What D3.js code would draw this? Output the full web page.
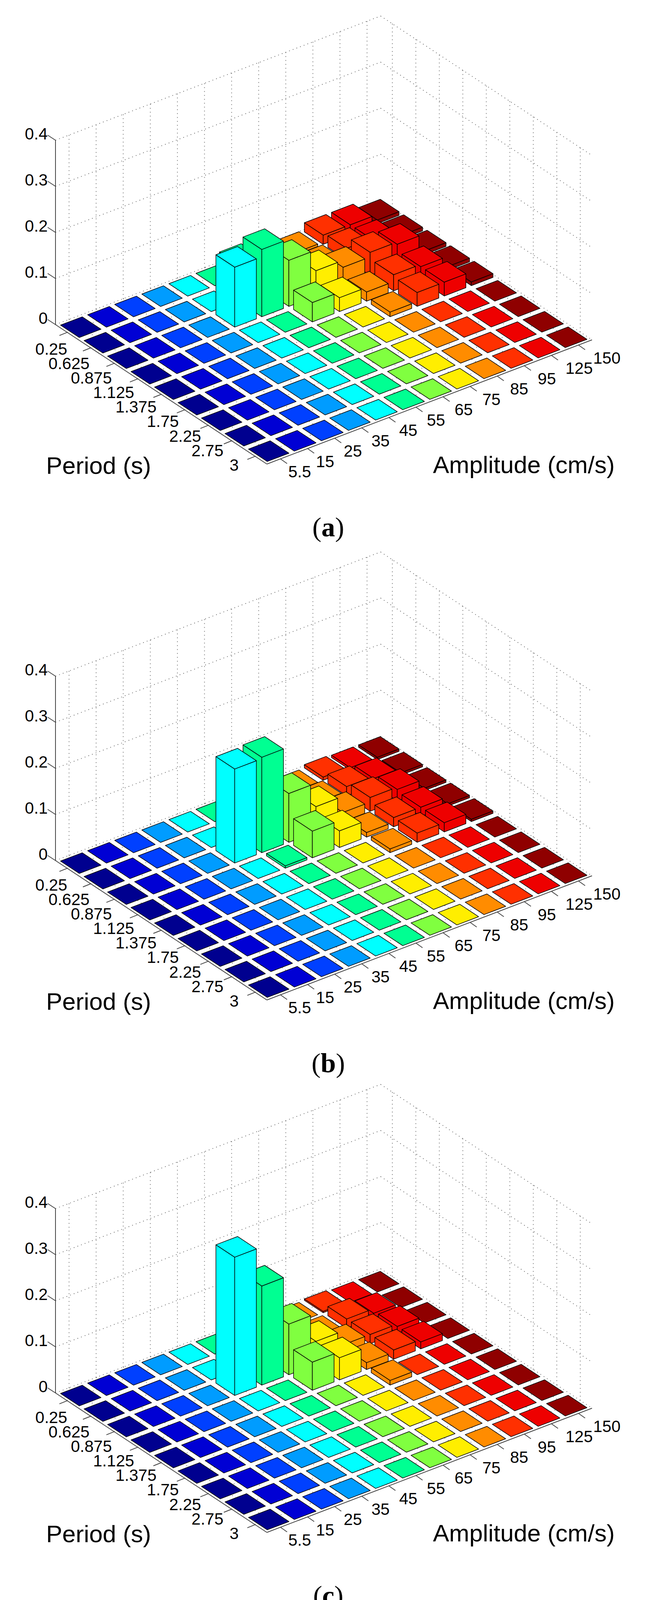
<!DOCTYPE html>
<html>
<head>
<meta charset="utf-8">
<script src="https://cdn.jsdelivr.net/npm/d3@7"></script>
<style>
  html, body { margin: 0; padding: 0; background: #fff; overflow: hidden; width: 1689px; height: 5507px; }
  svg { display: block; }
  text { font-family: "Liberation Sans", Arial, sans-serif; fill: #000; }
</style>
</head>
<body>
<svg id="chart" width="1689" height="5507"></svg>
<script>
const periods = ["0.25", "0.625", "0.875", "1.125", "1.375", "1.75", "2.25", "2.75", "3"];
const amplitudes = ["5.5", "15", "25", "35", "45", "55", "65", "75", "85", "95", "125", "150"];
const zTicks = [0, 0.1, 0.2, 0.3, 0.4];
const panelLabels = ["a", "b", "c", "d"];

// jet-like colour per amplitude column
const colors = ["#00008f", "#0000d4", "#0040ff", "#009cff", "#00ffff", "#00ff92",
                "#80ff40", "#ffee00", "#ff8c00", "#ff3000", "#ee0000", "#8f0000"];

// rows = period, columns = amplitude
const valuesA = [
  [0, 0, 0, 0, 0, 0, 0, 0, 0.005, 0.02, 0.02, 0.008],
  [0, 0, 0, 0, 0, 0.08, 0, 0, 0.01, 0.025, 0.02, 0.008],
  [0, 0, 0, 0, 0.13, 0.146, 0.10, 0.055, 0.04, 0.05, 0.045, 0.008],
  [0, 0, 0, 0, 0, 0, 0.042, 0.03, 0.02, 0.035, 0.03, 0.008],
  [0, 0, 0, 0, 0, 0, 0, 0, 0.01, 0.03, 0.03, 0.008],
  [0, 0, 0, 0, 0, 0, 0, 0, 0, 0, 0, 0],
  [0, 0, 0, 0, 0, 0, 0, 0, 0, 0, 0, 0],
  [0, 0, 0, 0, 0, 0, 0, 0, 0, 0, 0, 0],
  [0, 0, 0, 0, 0, 0, 0, 0, 0, 0, 0, 0]
];
const valuesB = [
  [0, 0, 0, 0, 0, 0, 0, 0, 0, 0.007, 0.005, 0.005],
  [0, 0, 0, 0, 0, 0, 0, 0, 0.01, 0.02, 0.015, 0.005],
  [0, 0, 0, 0, 0.204, 0.207, 0.106, 0.055, 0.02, 0.03, 0.025, 0.005],
  [0, 0, 0, 0, 0, 0.005, 0.058, 0.036, 0.01, 0.02, 0.02, 0.005],
  [0, 0, 0, 0, 0, 0, 0, 0, 0.008, 0.02, 0.02, 0.005],
  [0, 0, 0, 0, 0, 0, 0, 0, 0, 0, 0, 0],
  [0, 0, 0, 0, 0, 0, 0, 0, 0, 0, 0, 0],
  [0, 0, 0, 0, 0, 0, 0, 0, 0, 0, 0, 0],
  [0, 0, 0, 0, 0, 0, 0, 0, 0, 0, 0, 0]
];
const valuesC = [
  [0, 0, 0, 0, 0, 0, 0, 0, 0, 0.003, 0, 0],
  [0, 0, 0, 0, 0, 0, 0, 0, 0.005, 0.02, 0.01, 0],
  [0, 0, 0, 0, 0.30, 0.215, 0.11, 0.05, 0.02, 0.02, 0.015, 0],
  [0, 0, 0, 0, 0, 0, 0.061, 0.048, 0.015, 0.02, 0.015, 0],
  [0, 0, 0, 0, 0, 0, 0, 0, 0.01, 0, 0, 0],
  [0, 0, 0, 0, 0, 0, 0, 0, 0, 0, 0, 0],
  [0, 0, 0, 0, 0, 0, 0, 0, 0, 0, 0, 0],
  [0, 0, 0, 0, 0, 0, 0, 0, 0, 0, 0, 0],
  [0, 0, 0, 0, 0, 0, 0, 0, 0, 0, 0, 0]
];
const valuesD = [
  [0, 0, 0, 0, 0, 0, 0, 0, 0, 0, 0, 0],
  [0, 0, 0, 0, 0, 0, 0, 0, 0.003, 0, 0, 0],
  [0, 0, 0, 0, 0.39, 0.243, 0.085, 0.02, 0.02, 0, 0.003, 0],
  [0, 0, 0, 0, 0, 0, 0.066, 0.015, 0.02, 0, 0.003, 0],
  [0, 0, 0, 0, 0, 0, 0, 0, 0.02, 0, 0.003, 0],
  [0, 0, 0, 0, 0, 0, 0, 0, 0, 0, 0, 0],
  [0, 0, 0, 0, 0, 0, 0, 0, 0, 0, 0, 0],
  [0, 0, 0, 0, 0, 0, 0, 0, 0, 0, 0, 0],
  [0, 0, 0, 0, 0, 0, 0, 0, 0, 0, 0, 0]
];
const panels = [valuesA, valuesB, valuesC, valuesD];
const panelOffsets = [0, 1372, 2735, 4099];

const svg = d3.select("#chart");

// floor corner L (period start, amplitude start), period runs to F, amplitude runs F -> R
const L = { x: 142, y: 831 };
const pVec = { x: 541, y: 357 };
const aVec = { x: 832, y: -318 };
const pScale = d3.scaleLinear().domain([0, periods.length]).range([0, 1]);
const aScale = d3.scaleLinear().domain([0, amplitudes.length]).range([0, 1]);
const zScale = d3.scaleLinear().domain([0, 0.4]).range([0, 472]);
const barW = 0.8;

panels.forEach((vals, k) => drawPanel(vals, panelOffsets[k], panelLabels[k]));

function drawPanel(vals, oy, label) {
  const g = svg.append("g");
  const P = (x, y, z) => [
    L.x + pScale(x) * pVec.x + aScale(y) * aVec.x,
    L.y + oy + pScale(x) * pVec.y + aScale(y) * aVec.y - zScale(z)
  ];
  const np = periods.length, na = amplitudes.length, zMax = 0.4;
  const dotted = { stroke: "#666", "stroke-width": 1.8, "stroke-dasharray": "2,8" };
  const line = (a, b, style) => {
    const l = g.append("line").attr("x1", a[0]).attr("y1", a[1]).attr("x2", b[0]).attr("y2", b[1]);
    Object.entries(style).forEach(([s, v]) => l.attr(s, v));
  };

  // walls: left-back (x = 0) and back-right (y = na)
  zTicks.forEach(z => {
    line(P(0, 0, z), P(0, na, z), dotted);
    line(P(0, na, z), P(np, na, z), dotted);
  });
  amplitudes.forEach((_, j) => {
    line(P(0, j + 0.5, 0), P(0, j + 0.5, zMax), dotted);
    line(P(0, j + 0.5, 0), P(np, j + 0.5, 0), dotted);
  });
  periods.forEach((_, i) => {
    line(P(i + 0.5, na, 0), P(i + 0.5, na, zMax), dotted);
    line(P(i + 0.5, 0, 0), P(i + 0.5, na, 0), dotted);
  });

  // axes
  const axisStyle = { stroke: "#444", "stroke-width": 2 };
  line(P(0, 0, 0), P(0, 0, zMax), axisStyle);
  line(P(0, 0, 0), P(np, 0, 0), axisStyle);
  line(P(np, 0, 0), P(np, na, 0), axisStyle);

  zTicks.forEach(z => {
    const p = P(0, 0, z);
    line(p, [p[0] - 20, p[1] - 13], axisStyle);
    g.append("text").attr("x", p[0] - 20).attr("y", p[1] - 17).attr("dy", "0.35em")
      .attr("text-anchor", "end").attr("font-size", 42).text(z === 0 ? "0" : d3.format(".1f")(z));
  });
  periods.forEach((t, i) => {
    const p = P(i + 0.5, 0, 0);
    line(p, [p[0] - 20, p[1] + 8], axisStyle);
    g.append("text").attr("x", p[0] - 3 * i - (i === np - 1 ? 18 : 0)).attr("y", p[1] + 42 - 2.5 * i)
      .attr("dy", "0.35em").attr("text-anchor", "end").attr("font-size", 42).text(t);
  });
  amplitudes.forEach((t, j) => {
    const p = P(np, j + 0.5, 0);
    line(p, [p[0] + 17, p[1] + 12], axisStyle);
    g.append("text").attr("x", p[0] + 20 + 1.6 * j).attr("y", p[1] + 33)
      .attr("dy", "0.35em").attr("text-anchor", "start").attr("font-size", 42).text(t);
  });

  // bars, back to front
  const cells = [];
  vals.forEach((row, i) => row.forEach((v, j) => cells.push({ i, j, v })));
  cells.sort((a, b) => (a.i - a.j) - (b.i - b.j) || a.i - b.i);
  const m = (1 - barW) / 2;
  const poly = (pts, fill) => g.append("polygon").attr("points", pts.map(p => p.join(",")).join(" "))
    .attr("fill", fill).attr("stroke", "#000").attr("stroke-width", 1.5).attr("stroke-linejoin", "round");
  cells.forEach(({ i, j, v }) => {
    const x0 = i + m, x1 = i + 1 - m, y0 = j + m, y1 = j + 1 - m;
    const c = colors[j];
    if (v > 0) {
      poly([P(x0, y0, 0), P(x1, y0, 0), P(x1, y0, v), P(x0, y0, v)], c);
      poly([P(x1, y0, 0), P(x1, y1, 0), P(x1, y1, v), P(x1, y0, v)], c);
    }
    poly([P(x0, y0, v), P(x1, y0, v), P(x1, y1, v), P(x0, y1, v)], c);
  });

  // titles
  g.append("text").attr("x", 118).attr("y", 1213 + oy).attr("font-size", 62).text("Period (s)");
  g.append("text").attr("x", 1108).attr("y", 1211 + oy).attr("font-size", 62).text("Amplitude (cm/s)");
  const lab = g.append("text").attr("x", 840).attr("y", 1373 + oy).attr("text-anchor", "middle")
    .attr("font-size", 70).style("font-family", "'Liberation Serif', 'Times New Roman', serif");
  lab.append("tspan").text("(");
  lab.append("tspan").attr("font-weight", "bold").text(label);
  lab.append("tspan").text(")");
}
</script>
</body>
</html>
